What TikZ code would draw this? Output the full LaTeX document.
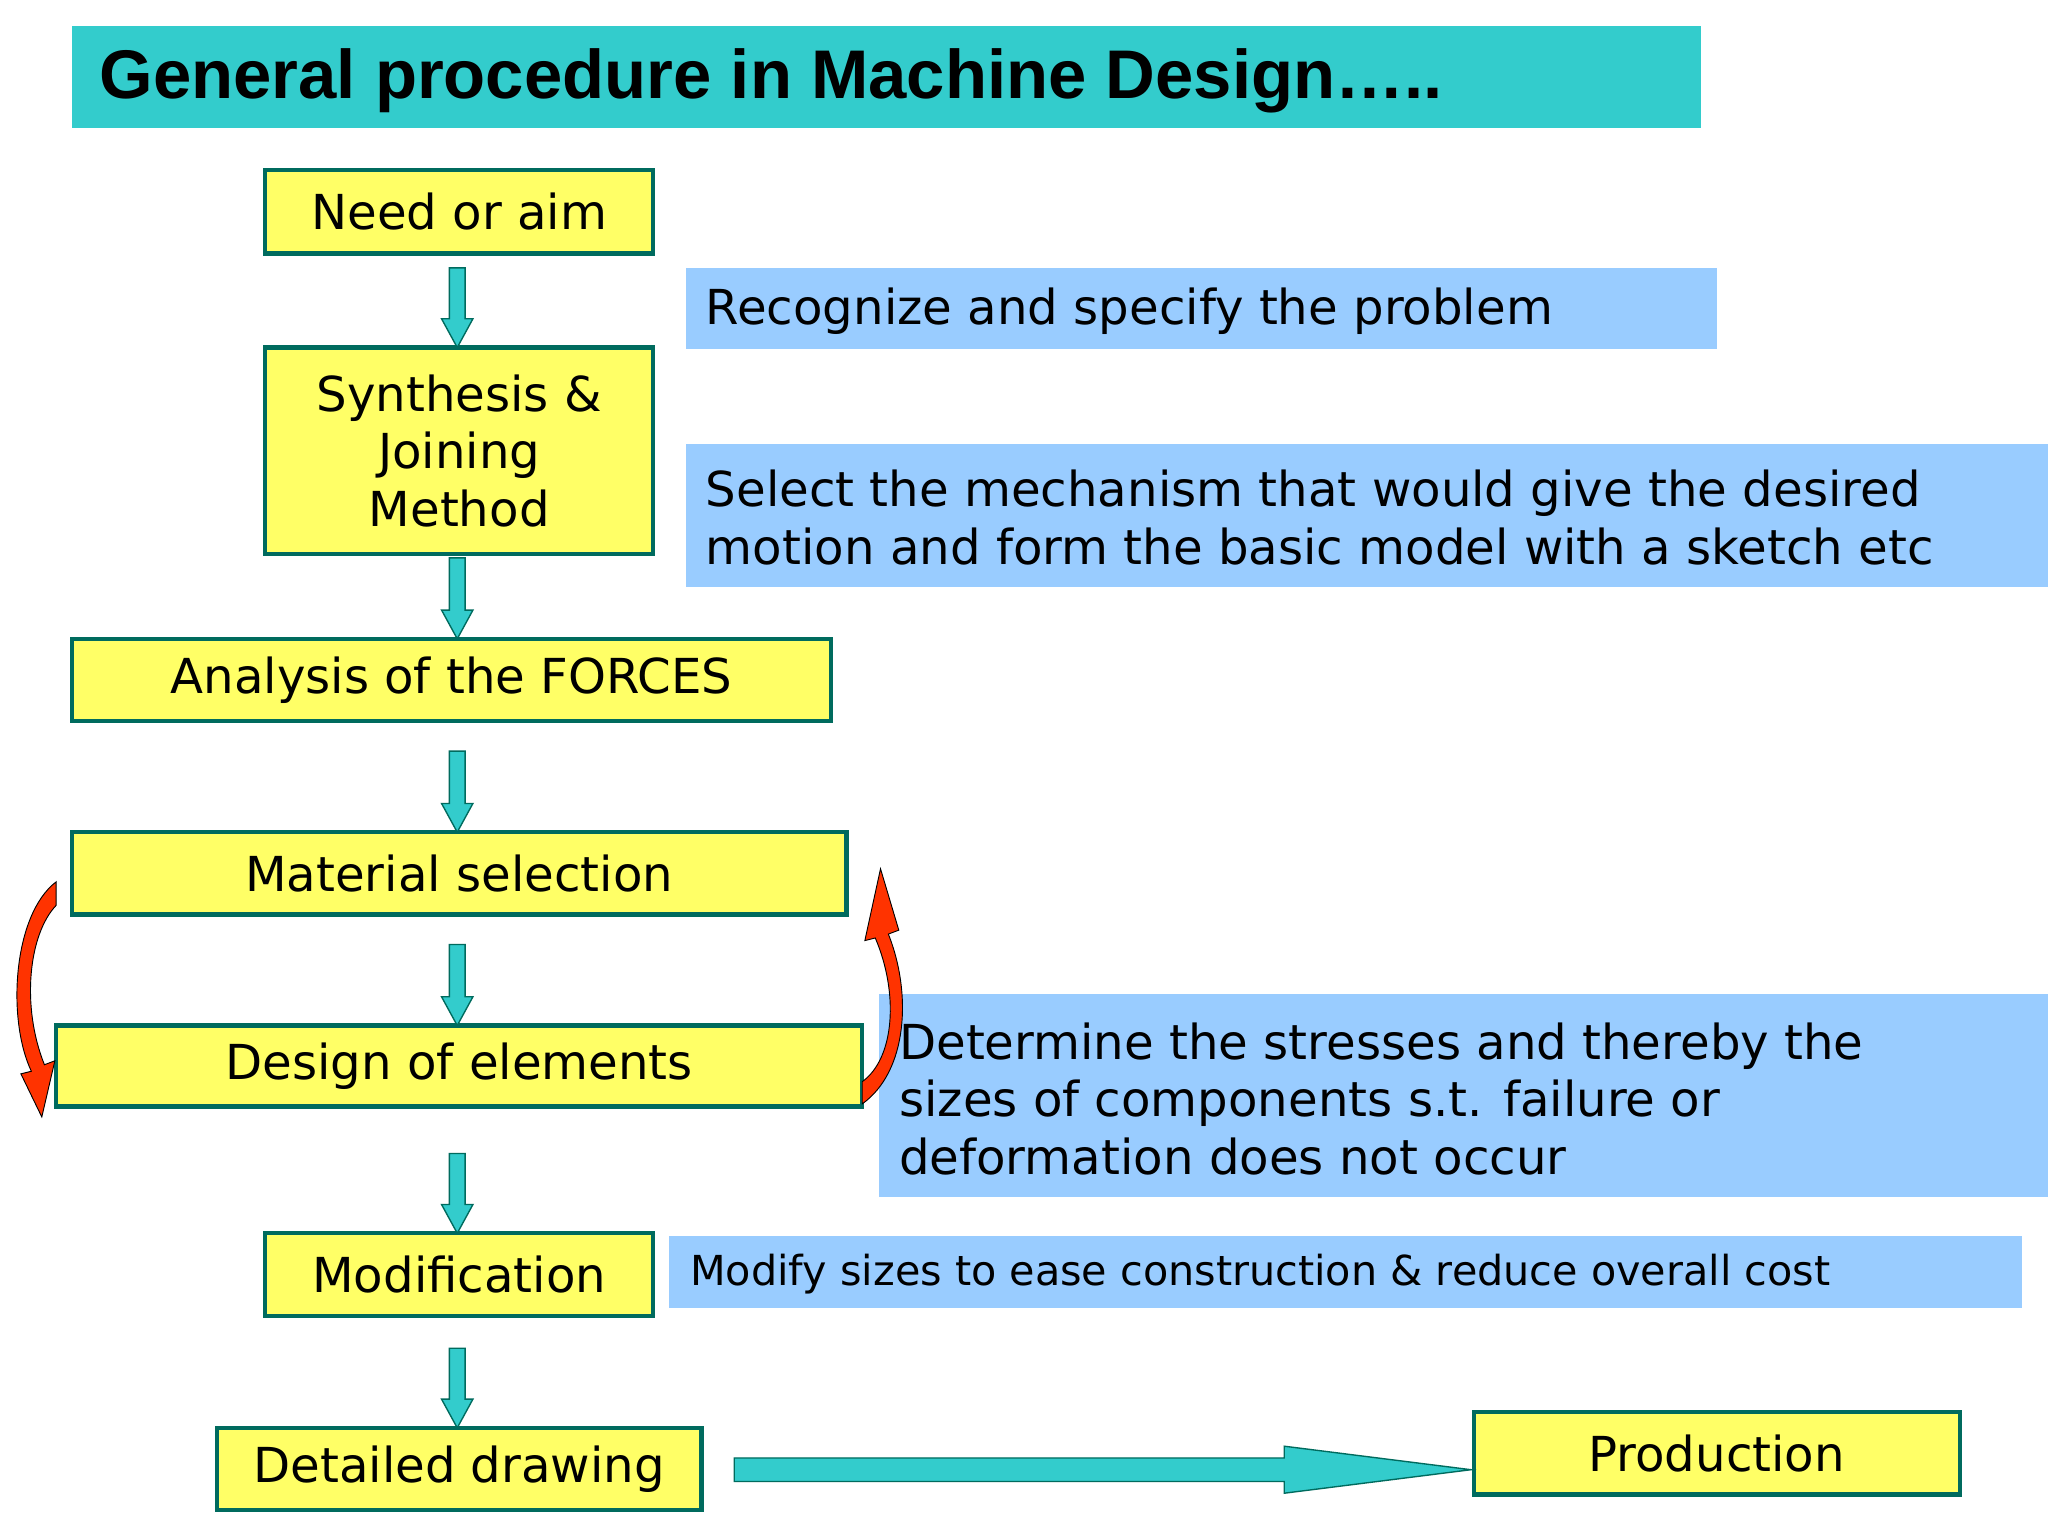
\documentclass[tikz,border=0pt]{standalone}
\usepackage{fontspec}
\setmainfont{DejaVu Sans}
\newfontfamily\titlefont{Liberation Sans}
\usetikzlibrary{arrows.meta}
\definecolor{yel}{HTML}{FFFF66}
\definecolor{edg}{HTML}{006B5E}
\definecolor{teal}{HTML}{33CCCC}
\definecolor{blu}{HTML}{99CCFF}
\definecolor{redo}{HTML}{FF3300}
\tikzset{
 ybox/.style={draw=edg,fill=yel,line width=1.8pt,align=center,font=\fontsize{21}{25}\selectfont,inner sep=0pt},
 bbox/.style={fill=blu,align=left,font=\fontsize{21}{25}\selectfont,inner sep=0pt,anchor=west},
 darr/.style={draw=edg,fill=teal,line width=0.6pt},
}
\newcommand{\bx}[6]{\node[ybox,minimum width=#4*0.02cm-#2*0.02cm,minimum height=#5*0.02cm-#3*0.02cm] (#1) at ({(#2+#4)/2*0.02},{-(#3+#5)/2*0.02}) {#6};}
\newcommand{\bb}[5]{\fill[blu] (#1*0.02,-#2*0.02) rectangle (#3*0.02,-#4*0.02);}
\newcommand{\dar}[2]{\draw[darr,x=0.02cm,y=-0.02cm] (344,#1)--(356,#1)--(356,#2-22)--(362,#2-22)--(350,#2)--(338,#2-22)--(344,#2-22)--cycle;}
\begin{document}
\begin{tikzpicture}
\useasboundingbox (0,0) rectangle (31.36,-23.52);
\fill[white] (0,0) rectangle (31.36,-23.52);
\fill[teal] (55*0.02,-20*0.02) rectangle (1302*0.02,-98*0.02);
\node[anchor=west,font=\titlefont\bfseries\fontsize{30}{34}\selectfont] (title) at (70*0.02,-62*0.02) {General procedure in Machine Design…..};
% blue boxes
\bb{525}{205}{1314}{267}{}
\node[bbox] (t1) at (540*0.02,-238*0.02) {Recognize and specify the problem};
\bb{525}{340}{1568}{449}{}
\node[bbox] (t2) at (540*0.02,-396*0.02) {Select the mechanism that would give the desired\\motion and form the basic model with a sketch etc};
\bb{673}{761}{1568}{916}{}
\node[bbox] (t3) at (688*0.02,-841*0.02) {Determine the stresses and thereby the\\sizes of components s.t. failure or\\deformation does not occur};
\bb{512}{946}{1548}{1001}{}
\node[bbox,font=\fontsize{18}{22}\selectfont] (t4) at (528*0.02,-975*0.02) {Modify sizes to ease construction \& reduce overall cost};
% yellow boxes
\bx{need}{203}{130}{500}{194}{Need or aim}
\bx{syn}{203}{266}{500}{424}{Synthesis \&\\Joining\\Method}
\bx{ana}{55}{489}{636}{552}{Analysis of the FORCES}
\bx{mat}{55}{637}{648}{700}{Material selection}
\bx{des}{43}{785}{660}{847}{Design of elements}
\bx{mod}{203}{944}{500}{1007}{Modification}
\bx{det}{166}{1093}{537}{1156}{Detailed drawing}
\bx{pro}{1128}{1081}{1500}{1144}{Production}
% down arrows
\dar{205}{266}
\dar{427}{489}
\dar{575}{637}
\dar{723}{785}
\dar{883}{944}
\dar{1032}{1093}
% big right arrow
\draw[darr,x=0.02cm,y=-0.02cm] (562,1116)--(983,1116)--(983,1107)--(1126,1125)--(983,1143)--(983,1134)--(562,1134)--cycle;
% red curved arrows
\draw[draw=black,fill=redo,line width=0.4pt,x=0.02cm,y=-0.02cm] (43,675) .. controls (10,700) and (5,780) .. (24,820) -- (16,822) -- (32,855) -- (42,812) -- (34,815) .. controls (16,770) and (22,715) .. (43,693) -- cycle;
\draw[draw=black,fill=redo,line width=0.4pt,x=0.02cm,y=-0.02cm] (660,845) .. controls (695,820) and (698,760) .. (680,715) -- (688,712) -- (674,665) -- (662,720) -- (670,718) .. controls (688,760) and (685,810) .. (660,828) -- cycle;
\end{tikzpicture}
\end{document}
